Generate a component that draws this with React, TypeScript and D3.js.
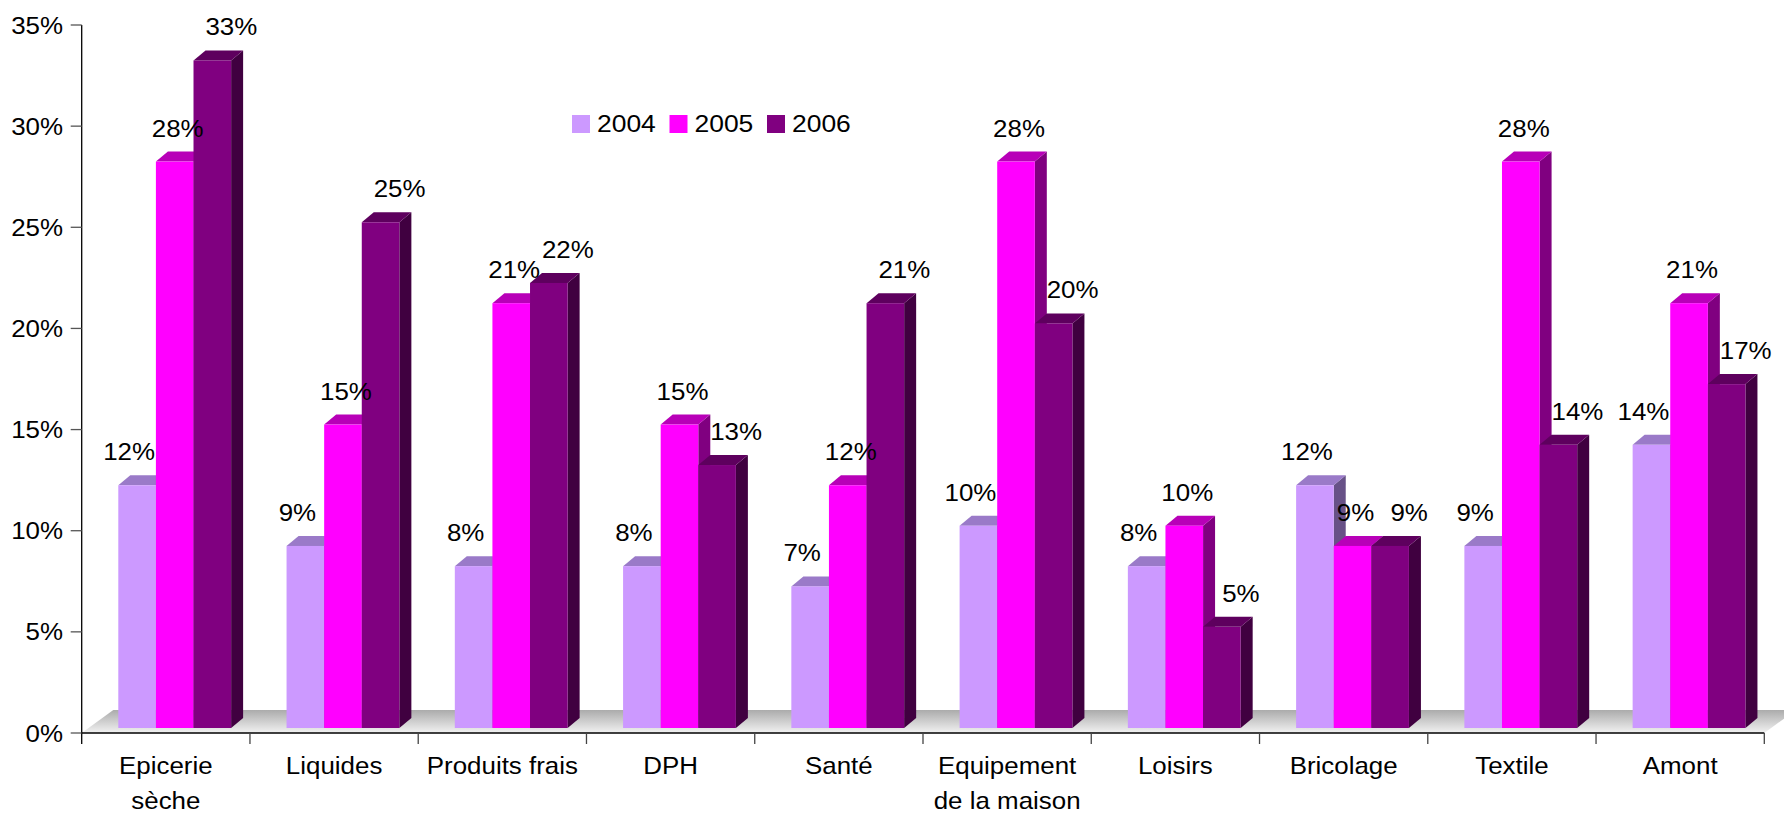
import React from "react";
import * as d3 from "d3";

const categories: string[][] = [
  ["Epicerie", "sèche"],
  ["Liquides"],
  ["Produits frais"],
  ["DPH"],
  ["Santé"],
  ["Equipement", "de la maison"],
  ["Loisirs"],
  ["Bricolage"],
  ["Textile"],
  ["Amont"],
];
const seriesNames = ["2004", "2005", "2006"];
const values2004 = [12, 9, 8, 8, 7, 10, 8, 12, 9, 14];
const values2005 = [28, 15, 21, 15, 12, 28, 10, 9, 28, 21];
const values2006 = [33, 25, 22, 13, 21, 20, 5, 9, 14, 17];
const yTicks = [0, 5, 10, 15, 20, 25, 30, 35];

const frontColors = ["#CC99FF", "#FF00FF", "#800080"];
const topColors = ["#9A7AC8", "#B800B8", "#5E005E"];
const sideColors = ["#675187", "#800080", "#400040"];
const labelShift = [-8, 3, 19];

const W = 1784;
const H = 813;
const FONT = "'Liberation Sans', Arial, sans-serif";
const SX = 1.08;
const FS = 24;

export default function App() {
  const series = [values2004, values2005, values2006];
  const keys = categories.map((c) => c.join(" "));
  const x = d3.scaleBand<string>().domain(keys).range([81.7, 1764.3]).padding(0);
  const bw = x.bandwidth();
  const inner = d3
    .scaleBand<string>()
    .domain(seriesNames)
    .range([0.2175 * bw, 0.2175 * bw + 3 * 0.2235 * bw])
    .padding(0);
  const y = d3.scaleLinear().domain([0, 35]).range([733, 25]);
  const lift = 5;
  const dx = 12;
  const dy = 10;
  const floorDx = 31.6;
  const floorDy = 23;
  const x0 = x.range()[0];
  const x1 = x.range()[1];
  const base = y(0);

  const bars: JSX.Element[] = [];
  const labels: JSX.Element[] = [];
  keys.forEach((k, ci) => {
    seriesNames.forEach((s, si) => {
      const v = series[si][ci];
      const left = (x(k) as number) + (inner(s) as number);
      const right = left + inner.bandwidth();
      const top = y(v) - lift;
      const bottom = base - lift;
      bars.push(
        <g key={`b${ci}-${si}`}>
          <polygon
            points={`${right},${top} ${right + dx},${top - dy} ${right + dx},${bottom - dy} ${right},${bottom}`}
            fill={sideColors[si]}
          />
          <polygon
            points={`${left},${top} ${left + dx},${top - dy} ${right + dx},${top - dy} ${right},${top}`}
            fill={topColors[si]}
          />
          <rect x={left} y={top} width={right - left} height={bottom - top} fill={frontColors[si]} />
        </g>
      );
      labels.push(
        <g key={`l${ci}-${si}`} transform={`translate(${(left + right) / 2 + labelShift[si]},${top - 25}) scale(${SX},1)`}>
          <text textAnchor="middle" fontSize={FS} fontFamily={FONT} fill="#000">
            {`${v}%`}
          </text>
        </g>
      );
    });
  });

  return (
    <svg
      width={W}
      height={H}
      style={{ position: "absolute", left: 0, top: 0, background: "#fff" }}
    >
      <defs>
        <linearGradient id="floorGrad" x1="0" y1="0" x2="0" y2="1">
          <stop offset="0" stopColor="#ABABAB" />
          <stop offset="1" stopColor="#F2F2F2" />
        </linearGradient>
      </defs>
      <rect width={W} height={H} fill="#fff" />
      <polygon
        points={`${x0},${base} ${x1},${base} ${x1 + floorDx},${base - floorDy} ${x0 + floorDx},${base - floorDy}`}
        fill="url(#floorGrad)"
      />
      {bars}
      {labels}
      <line x1={x0} x2={x0} y1={y(35)} y2={base + 11} stroke="#000" strokeWidth={1.3} />
      {yTicks.map((t) => (
        <g key={`yt${t}`}>
          <line x1={x0 - 11} x2={x0} y1={y(t)} y2={y(t)} stroke="#555" strokeWidth={1.3} />
          <g transform={`translate(63,${y(t) + 8.5}) scale(${SX},1)`}>
            <text textAnchor="end" fontSize={FS} fontFamily={FONT} fill="#000">
              {`${t}%`}
            </text>
          </g>
        </g>
      ))}
      <line x1={x0} x2={x1} y1={base} y2={base} stroke="#000" strokeWidth={1.3} />
      {keys.map((k, i) => (
        <line
          key={`xt${i}`}
          x1={(x(k) as number) + bw}
          x2={(x(k) as number) + bw}
          y1={base}
          y2={base + 11}
          stroke="#444"
          strokeWidth={1.3}
        />
      ))}
      {categories.map((lines, i) =>
        lines.map((ln, li) => (
          <g
            key={`c${i}-${li}`}
            transform={`translate(${(x(keys[i]) as number) + bw / 2},${773.5 + li * 35}) scale(${SX},1)`}
          >
            <text textAnchor="middle" fontSize={FS} fontFamily={FONT} fill="#000">
              {ln}
            </text>
          </g>
        ))
      )}
      {seriesNames.map((s, i) => (
        <g key={`lg${s}`} transform={`translate(${572 + i * 97.5},115)`}>
          <rect x={0} y={0} width={18} height={18} fill={frontColors[i]} />
          <g transform={`translate(25,16.5) scale(${SX},1)`}>
            <text fontSize={24.5} fontFamily={FONT} fill="#000">
              {s}
            </text>
          </g>
        </g>
      ))}
    </svg>
  );
}
